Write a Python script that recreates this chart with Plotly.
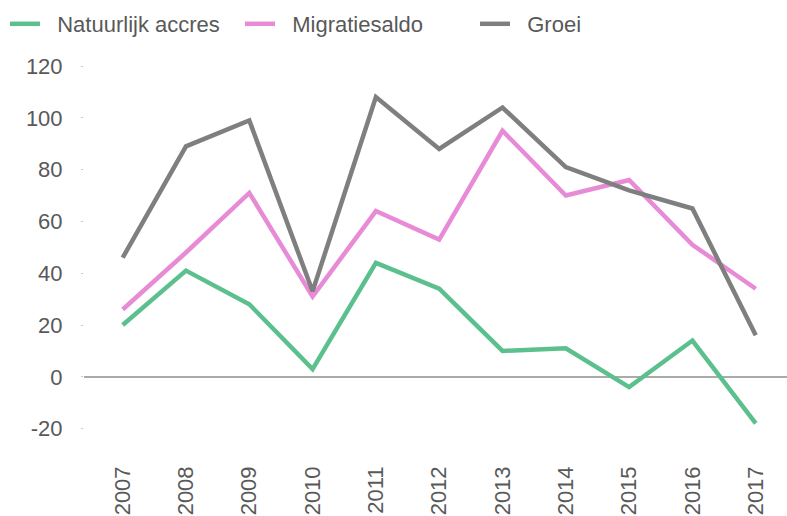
import plotly.graph_objects as go

years = ["2007", "2008", "2009", "2010", "2011", "2012", "2013", "2014", "2015", "2016", "2017"]
natuurlijk = [20, 41, 28, 3, 44, 34, 10, 11, -4, 14, -18]
migratie = [26, 48, 71, 31, 64, 53, 95, 70, 76, 51, 34]
groei = [46, 89, 99, 33, 108, 88, 104, 81, 72, 65, 16]

y_ticks = [-20, 0, 20, 40, 60, 80, 100, 120]
y_ticklabels = ["-20", "0", "20", "40", "60", "80", "100", "120"]

series_names = ["\u00a0\u00a0Natuurlijk accres", "\u00a0\u00a0Migratiesaldo", "\u00a0\u00a0Groei"]
series_values = [natuurlijk, migratie, groei]
series_colors = ["#5cc08e", "#e88bd6", "#7f7f7f"]

fig = go.Figure()
for name, vals, col in zip(series_names, series_values, series_colors):
    fig.add_trace(go.Scatter(x=years, y=vals, mode="lines", name=name,
                             line=dict(color=col, width=4.5)))

font = "Arial, Liberation Sans, sans-serif"
fig.update_layout(
    width=787, height=516,
    template="none",
    paper_bgcolor="white", plot_bgcolor="white",
    margin=dict(l=84, r=0, t=50, b=61, autoexpand=False),
    font=dict(family=font, size=22, color="#595959"),
    showlegend=True,
    legend=dict(orientation="h", xref="container", yref="container",
                x=5 / 787, xanchor="left", y=0.9535, yanchor="middle",
                entrywidth=190, entrywidthmode="pixels",
                font=dict(family=font, size=22, color="#595959"),
                bgcolor="rgba(0,0,0,0)", traceorder="normal"),
    xaxis=dict(type="category", range=[-0.611, 10.494], showgrid=False,
               zeroline=False, showline=False, ticks="", tickangle=-90,
               ticklabelstandoff=6, automargin=False,
               tickfont=dict(family=font, size=22, color="#595959")),
    yaxis=dict(range=[-30.2, 126.2], tickvals=y_ticks, ticktext=y_ticklabels,
               showgrid=False, zeroline=True, zerolinecolor="#aaaaaa",
               zerolinewidth=1.5, showline=False, ticks="outside", ticklen=2,
               tickwidth=1, tickcolor="#c8c8c8", ticklabelstandoff=14,
               automargin=False,
               tickfont=dict(family=font, size=22, color="#595959")),
)

fig.write_html("out.html", config={"displayModeBar": False},
               post_script="document.body.style.margin='0';")
